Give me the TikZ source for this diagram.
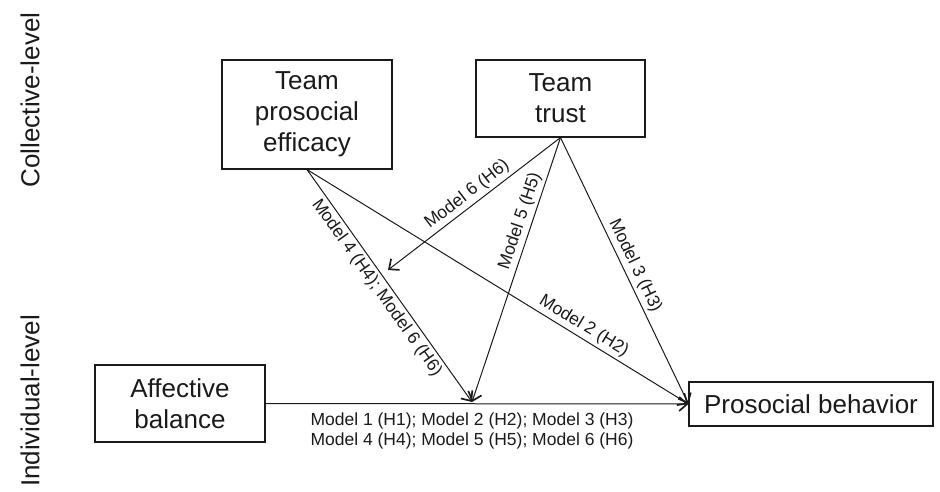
\documentclass[tikz,border=0pt]{standalone}
\usepackage{fontspec}
\setmainfont{Liberation Sans}
\usetikzlibrary{arrows.meta}
\definecolor{ink}{HTML}{1A1A1A}
\tikzset{
  varbox/.style={draw=ink, line width=1.1pt, rectangle, align=center, text=ink,
    font=\fontsize{26}{31}\selectfont, inner sep=0pt},
  path/.style={draw=ink, line width=1pt, -{Straight Barb[length=8pt,width=14pt,line width=1.7pt]}},
  lab/.style={font=\fontsize{17.5}{19.5}\selectfont, text=ink, sloped, inner sep=3pt},
  level/.style={font=\fontsize{26}{31}\selectfont, text=ink, rotate=90}
}
\begin{document}
\begin{tikzpicture}[x=1pt,y=-1pt]
\useasboundingbox (0,0) rectangle (940,492);
\node[varbox, minimum width=170pt, minimum height=109pt] (eff) at (307,114.5) {Team\\prosocial\\efficacy};
\node[varbox, minimum width=169pt, minimum height=77pt] (trust) at (560.5,98.5) {Team\\trust};
\node[varbox, minimum width=170pt, minimum height=77pt] (aff) at (180,403.5) {Affective\\balance};
\node[varbox, minimum width=244pt, minimum height=44pt] (pro) at (811,404) {Prosocial behavior};
\coordinate (m) at (472,402);
\coordinate (t6) at (388,270);
\node[level] (coll) at (30,100) {Collective-level};
\node[level] (ind) at (30,401) {Individual-level};
\draw[path] (aff.east) -- (pro.west);
\draw[path] (eff.south) -- node[lab, pos=0.48, below] {Model 4 (H4); Model 6 (H6)} (m);
\draw[path] (eff.south) -- node[lab, pos=0.71, above] {Model 2 (H2)} (pro.west);
\draw[path] (trust.south) -- node[lab, pos=0.5, above] {Model 6 (H6)} (t6);
\draw[path] (trust.south) -- node[lab, pos=0.33, above] {Model 5 (H5)} (m);
\draw[path] (trust.south) -- node[lab, pos=0.5, above] {Model 3 (H3)} (pro.west);
\node[font=\fontsize{17.5}{19.5}\selectfont, text=ink, align=left, inner sep=0pt] (bot) at (472,431)
  {Model 1 (H1); Model 2 (H2); Model 3 (H3)\\Model 4 (H4); Model 5 (H5); Model 6 (H6)};
\end{tikzpicture}
\end{document}
